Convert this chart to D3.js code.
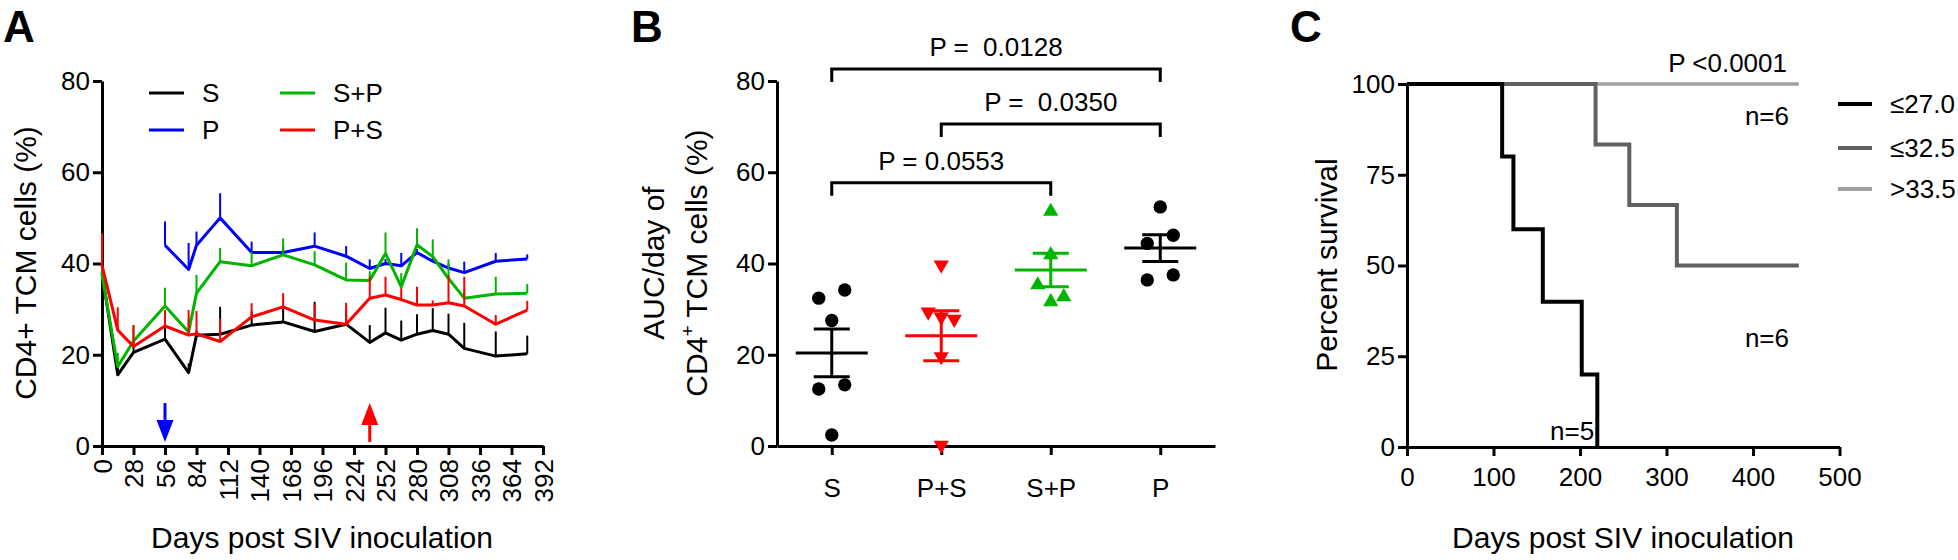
<!DOCTYPE html>
<html lang="en">
<head>
<meta charset="UTF-8">
<title>CD4 TCM</title>
<script src="https://d3js.org/d3.v7.min.js"></script>
<style>
  body { margin: 0; background: #fff; }
  text { font-family: "Liberation Sans", Arial, sans-serif; }
</style>
</head>
<body>
<div id="figure"></div>
<script>
// ---- panel A: time course ----
const daysA = [0, 14, 28, 56, 77, 84, 105, 133, 161, 189, 217, 238, 252, 266, 280, 294, 308, 322, 350, 378];
const dayTicks = d3.range(0, 393, 28);
const seriesNames = ["S", "P", "S+P", "P+S"];
const seriesColors = {"S": "#000000", "P": "#0000ff", "S+P": "#00b400", "P+S": "#ff0000"};
const meanS  = [38, 15.6, 20.5, 23.4, 16.1, 24.3, 24.5, 26.5, 27.2, 25.1, 26.7, 22.7, 24.8, 23.2, 24.5, 25.3, 24.5, 21.4, 19.7, 20.2];
const semS   = [2, 2, 2.5, 3, 2, 1, 6, 3, 3, 6.5, 3, 3.8, 5.5, 4.3, 4.4, 4.9, 4.5, 5.6, 5.4, 4];
const meanP  = [null, null, null, 44, 38.7, 44, 50, 42.4, 42.4, 43.8, 41.6, 38.9, 40, 39.5, 42.4, 40.5, 39, 38, 40.5, 41];
const semP   = [null, null, null, 5.2, 5.8, 3, 5.4, 2.4, 1.5, 3, 2.2, 2, 1, 2.8, 0.8, 1, 1, 2.4, 1.8, 1];
const meanSP = [37.5, 17.4, 23, 30.7, 25, 33.5, 40.4, 39.5, 41.9, 39.7, 36.4, 36.3, 42.2, 34.9, 44.1, 41.5, 36.7, 32.4, 33.3, 33.5];
const semSP  = [2, 3, 3.5, 4, 3, 4, 3, 3, 3.6, 3, 3.8, 2, 4.6, 3, 3.6, 3.8, 4.2, 2, 3.8, 2];
const meanPS = [39.6, 25.4, 21.8, 26.3, 24.3, 24.6, 22.9, 28.3, 30.5, 27.6, 26.7, 32.4, 33.1, 32.1, 30.9, 30.9, 31.4, 30.7, 26.7, 29.8];
const semPS  = [7, 5, 4.7, 3.5, 5.5, 5, 5, 3, 3, 3.5, 4.7, 4.7, 4, 2.5, 4, 1, 6, 6.4, 2, 2];
const arrowDays = [56, 238]; // P start (down, blue), S start (up, red)

// ---- panel B: AUC scatter ----
const groupsB = ["S", "P+S", "S+P", "P"];
const aucS  = [32.4, 34.2, 27.5, 12.5, 13.4, 2.4];
const aucPS = [39.7, 29.4, 28.3, 27.8, 19.6, 0.2];
const aucSP = [51.4, 41.9, 35.3, 31.6, 32.7];
const aucP  = [52.4, 46.2, 44.4, 36.4, 37.5];
const jitterS  = [-1, 1, 0, -1, 1, 0];
const jitterPS = [0, -1, 0, 1, 0, 0];
const jitterSP = [0, 0, -1, 0, 1];
const jitterP  = [0, 1, -1, -1, 1];
const pLabels = ["P =  0.0128", "P =  0.0350", "P = 0.0553"];
const pPairs = [["S", "P"], ["P+S", "P"], ["S", "S+P"]];
const pLevels = [69, 124, 182.7];

// ---- panel C: survival ----
const survNames = ["≤27.0", "≤32.5", ">33.5"];
const survColors = ["#000000", "#606060", "#a0a0a0"];
const survTimes = [[0, 110, 123, 157, 202, 220], [0, 218, 257, 312], [0]];
const survPct   = [[100, 80, 60, 40, 20, 0], [100, 83.33, 66.67, 50], [100]];
const survEnd   = [220, 453, 453];
const survN     = ["n=5", "n=6", "n=6"];

const W = 1958, H = 560;
const FS = 26, FT = 30;
const svg = d3.select("#figure").append("svg").attr("width", W).attr("height", H);

function styleAxis(g, fs) {
  g.select(".domain").attr("stroke", "#000").attr("stroke-width", 3);
  g.selectAll(".tick line").attr("stroke", "#000").attr("stroke-width", 3);
  g.selectAll(".tick text").attr("font-size", fs).attr("fill", "#000")
    .style("font-family", '"Liberation Sans", Arial, sans-serif');
}

// ================= A =================
const A = svg.append("g");
const xA = d3.scaleLinear().domain([0, 392]).range([102, 543]);
const yA = d3.scaleLinear().domain([0, 80]).range([446, 81]);

A.append("text").attr("x", 3).attr("y", 42).attr("font-size", 44).attr("font-weight", "bold").text("A");

let gx = A.append("g").attr("transform", "translate(0,446)")
  .call(d3.axisBottom(xA).tickValues(dayTicks).tickSize(9).tickSizeOuter(0));
styleAxis(gx, FS);
gx.selectAll(".tick text").attr("transform", "rotate(-90)").attr("text-anchor", "end")
  .attr("x", -13).attr("y", 0).attr("dy", "0.35em");
let gy = A.append("g").attr("transform", "translate(102,0)")
  .call(d3.axisLeft(yA).tickValues([0, 20, 40, 60, 80]).tickSize(9).tickSizeOuter(0).tickPadding(3));
styleAxis(gy, FS);

A.append("text").attr("transform", "translate(36,263) rotate(-90)").attr("text-anchor", "middle")
  .attr("font-size", FT).text("CD4+ TCM cells (%)");
A.append("text").attr("x", 322).attr("y", 548).attr("text-anchor", "middle")
  .attr("font-size", FT).text("Days post SIV inoculation");

const dataA = {"S": [meanS, semS], "P": [meanP, semP], "S+P": [meanSP, semSP], "P+S": [meanPS, semPS]};
const drawOrder = ["S", "P", "S+P", "P+S"];
const line = d3.line().defined(d => d[1] != null).x(d => xA(d[0])).y(d => yA(d[1]));
drawOrder.forEach(name => {
  const [m, e] = dataA[name];
  const pts = daysA.map((d, i) => [d, m[i], e[i]]);
  A.append("g").selectAll("line").data(pts.filter(p => p[1] != null)).join("line")
    .attr("x1", p => xA(p[0])).attr("x2", p => xA(p[0]))
    .attr("y1", p => yA(p[1])).attr("y2", p => yA(p[1] + p[2]))
    .attr("stroke", seriesColors[name]).attr("stroke-width", 2);
  A.append("path").datum(pts).attr("d", line).attr("fill", "none")
    .attr("stroke", seriesColors[name]).attr("stroke-width", 3).attr("stroke-linejoin", "round");
});

// arrows
function arrow(g, x, yTail, yTip, color) {
  const yHead = yTip + (yTail > yTip ? 1 : -1) * 22;
  g.append("line").attr("x1", x).attr("x2", x).attr("y1", yTail).attr("y2", yHead)
    .attr("stroke", color).attr("stroke-width", 3);
  g.append("path").attr("d", `M${x - 8.5},${yHead} L${x + 8.5},${yHead} L${x},${yTip} Z`).attr("fill", color);
}
arrow(A, xA(arrowDays[0]), yA(9.4), yA(0.9), "#0000ff");
arrow(A, xA(arrowDays[1]), yA(0.9), yA(9.4), "#ff0000");

// legend A
const legA = [["S", 149, 93], ["P", 149, 130], ["S+P", 280, 93], ["P+S", 280, 130]];
legA.forEach(([name, lx, ly]) => {
  A.append("line").attr("x1", lx).attr("x2", lx + 35).attr("y1", ly).attr("y2", ly)
    .attr("stroke", seriesColors[name]).attr("stroke-width", 3);
  A.append("text").attr("x", lx + 53).attr("y", ly + 9).attr("font-size", FS).text(name);
});

// ================= B =================
const B = svg.append("g");
const xB = d3.scalePoint().domain(groupsB).range([777, 1215]).padding(0.5);
const yB = d3.scaleLinear().domain([0, 80]).range([446, 81]);

B.append("text").attr("x", 631).attr("y", 42).attr("font-size", 44).attr("font-weight", "bold").text("B");

gx = B.append("g").attr("transform", "translate(0,446)")
  .call(d3.axisBottom(xB).tickSize(9).tickSizeOuter(0).tickPadding(24));
styleAxis(gx, FS);
gy = B.append("g").attr("transform", "translate(777,0)")
  .call(d3.axisLeft(yB).tickValues([0, 20, 40, 60, 80]).tickSize(9).tickSizeOuter(0).tickPadding(3));
styleAxis(gy, FS);

B.append("text").attr("transform", "translate(664,263) rotate(-90)").attr("text-anchor", "middle")
  .attr("font-size", FT).text("AUC/day of");
const t2 = B.append("text").attr("transform", "translate(707,263) rotate(-90)").attr("text-anchor", "middle")
  .attr("font-size", FT);
t2.append("tspan").text("CD4");
t2.append("tspan").attr("font-size", 19).attr("dy", -13).text("+");
t2.append("tspan").attr("dy", 13).text(" TCM cells (%)");

const dataB = {"S": [aucS, jitterS], "P+S": [aucPS, jitterPS], "S+P": [aucSP, jitterSP], "P": [aucP, jitterP]};
const colorB = {"S": "#000", "P+S": "#ff0000", "S+P": "#00b400", "P": "#000"};
const symB = {"S": d3.symbolCircle, "P+S": d3.symbolTriangle, "S+P": d3.symbolTriangle, "P": d3.symbolCircle};
groupsB.forEach(gname => {
  const [vals, jit] = dataB[gname];
  const cx = xB(gname), col = colorB[gname];
  const mean = d3.mean(vals);
  const sem = d3.deviation(vals) / Math.sqrt(vals.length);
  const rot = gname === "P+S" ? 180 : 0;
  const size = symB[gname] === d3.symbolCircle ? 140 : 100;
  B.append("g").selectAll("path").data(vals).join("path")
    .attr("d", d3.symbol().type(symB[gname]).size(size))
    .attr("transform", (v, i) => `translate(${cx + jit[i] * 13},${yB(v)}) rotate(${rot})`)
    .attr("fill", col);
  B.append("line").attr("x1", cx - 36).attr("x2", cx + 36).attr("y1", yB(mean)).attr("y2", yB(mean))
    .attr("stroke", col).attr("stroke-width", 3);
  B.append("line").attr("x1", cx).attr("x2", cx).attr("y1", yB(mean - sem)).attr("y2", yB(mean + sem))
    .attr("stroke", col).attr("stroke-width", 3);
  [mean - sem, mean + sem].forEach(v => {
    B.append("line").attr("x1", cx - 18).attr("x2", cx + 18).attr("y1", yB(v)).attr("y2", yB(v))
      .attr("stroke", col).attr("stroke-width", 3);
  });
});

pPairs.forEach(([a, b], i) => {
  const x1 = xB(a), x2 = xB(b), yy = pLevels[i];
  B.append("path").attr("d", `M${x1},${yy + 13} V${yy} H${x2} V${yy + 13}`)
    .attr("fill", "none").attr("stroke", "#000").attr("stroke-width", 3);
  B.append("text").attr("x", (x1 + x2) / 2).attr("y", yy - 13).attr("text-anchor", "middle")
    .attr("font-size", FS).style("white-space", "pre").text(pLabels[i]);
});

// ================= C =================
const C = svg.append("g");
const xC = d3.scaleLinear().domain([0, 500]).range([1407, 1839.5]);
const yC = d3.scaleLinear().domain([0, 100]).range([447, 84]);

C.append("text").attr("x", 1290).attr("y", 42).attr("font-size", 44).attr("font-weight", "bold").text("C");

gx = C.append("g").attr("transform", "translate(0,447)")
  .call(d3.axisBottom(xC).tickValues([0, 100, 200, 300, 400, 500]).tickSize(9).tickSizeOuter(0).tickPadding(12));
styleAxis(gx, FS);
gy = C.append("g").attr("transform", "translate(1407,0)")
  .call(d3.axisLeft(yC).tickValues([0, 25, 50, 75, 100]).tickSize(9).tickSizeOuter(0).tickPadding(3));
styleAxis(gy, FS);

C.append("text").attr("transform", "translate(1337,265) rotate(-90)").attr("text-anchor", "middle")
  .attr("font-size", FT).text("Percent survival");
C.append("text").attr("x", 1623).attr("y", 548).attr("text-anchor", "middle")
  .attr("font-size", FT).text("Days post SIV inoculation");

const stepLine = d3.line().curve(d3.curveStepAfter).x(d => xC(d[0])).y(d => yC(d[1]));
const widthsC = [4, 4, 3.5];
[2, 1, 0].forEach(k => {
  const pts = survTimes[k].map((t, i) => [t, survPct[k][i]]);
  pts.push([survEnd[k], survPct[k][survPct[k].length - 1]]);
  C.append("path").datum(pts).attr("d", stepLine).attr("fill", "none")
    .attr("stroke", survColors[k]).attr("stroke-width", widthsC[k]);
});

C.append("text").attr("x", 1787).attr("y", 72).attr("text-anchor", "end").attr("font-size", FS).text("P <0.0001");
C.append("text").attr("x", 1789).attr("y", 125).attr("text-anchor", "end").attr("font-size", FS).text(survN[2]);
C.append("text").attr("x", 1789).attr("y", 347).attr("text-anchor", "end").attr("font-size", FS).text(survN[1]);
C.append("text").attr("x", 1550).attr("y", 440).attr("font-size", FS).text(survN[0]);

const legY = [104, 148, 189];
survNames.forEach((n, k) => {
  C.append("line").attr("x1", 1838).attr("x2", 1872).attr("y1", legY[k]).attr("y2", legY[k])
    .attr("stroke", survColors[k]).attr("stroke-width", 4);
  C.append("text").attr("x", 1890).attr("y", legY[k] + 9).attr("font-size", FS).text(n);
});
</script>
</body>
</html>
